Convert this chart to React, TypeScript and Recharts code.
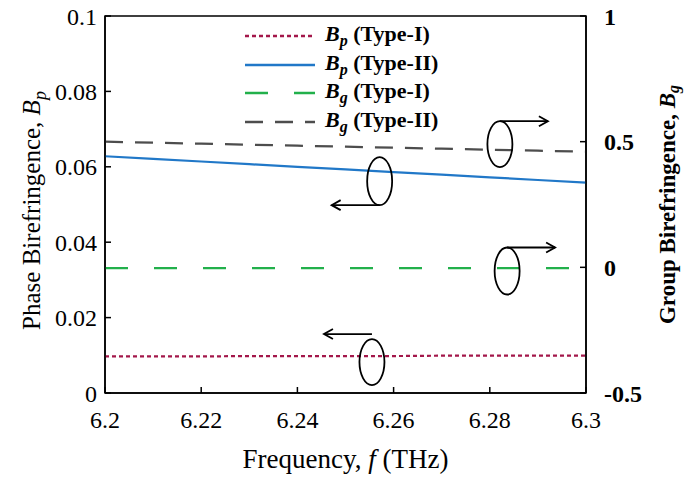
import React from "react";
import {
  ComposedChart,
  Line,
  XAxis,
  YAxis,
  ReferenceArea,
  ReferenceDot,
} from "recharts";

const freq = [6.2, 6.21, 6.22, 6.23, 6.24, 6.25, 6.26, 6.27, 6.28, 6.29, 6.3];
const bpType1 = [0.0097, 0.0097, 0.0097, 0.0098, 0.0098, 0.0098, 0.0098, 0.0099, 0.0099, 0.0099, 0.0099];
const bpType2 = [0.0628, 0.0621, 0.0614, 0.0607, 0.06, 0.0593, 0.0586, 0.0579, 0.0572, 0.0565, 0.0558];
const bgType1 = [-0.003, -0.003, -0.003, -0.003, -0.003, -0.003, -0.003, -0.003, -0.003, -0.003, -0.003];
const bgType2 = [0.5, 0.496, 0.492, 0.488, 0.484, 0.48, 0.476, 0.472, 0.468, 0.464, 0.46];

const xTicks = [6.2, 6.22, 6.24, 6.26, 6.28, 6.3];
const leftTicks = [0, 0.02, 0.04, 0.06, 0.08, 0.1];
const rightTicks = [-0.5, 0, 0.5, 1];

const data = freq.map((f, i) => ({
  f,
  bp1: bpType1[i],
  bp2: bpType2[i],
  bg1: bgType1[i],
  bg2: bgType2[i],
}));

const FONT = "Liberation Serif, Times New Roman, serif";

const series = [
  { key: "bp1", sym: "p", name: "(Type-I)", color: "#a3174a", dash: "4 3", axis: "left" },
  { key: "bp2", sym: "p", name: "(Type-II)", color: "#2178c8", dash: undefined, axis: "left" },
  { key: "bg1", sym: "g", name: "(Type-I)", color: "#22b04b", dash: "23 26", axis: "right" },
  { key: "bg2", sym: "g", name: "(Type-II)", color: "#4d4d4d", dash: "18 12", axis: "right" },
];

// ellipse with an arrow showing which axis a curve belongs to
const makeMarker = (dir: "left" | "right", from: "top" | "bottom", ry: number, lift = 0) =>
  (props: any) => {
    const { cx, cy } = props;
    if (cx == null || cy == null) return <g />;
    const rx = 12.5;
    const y0 = from === "top" ? cy - ry - lift : cy + ry;
    const x1 = dir === "right" ? cx + 48 : cx - 48;
    const s = dir === "right" ? -1 : 1;
    return (
      <g>
        <ellipse cx={cx} cy={cy} rx={rx} ry={ry} fill="none" stroke="#000" strokeWidth={1.8} />
        <line x1={cx} y1={y0} x2={x1} y2={y0} stroke="#000" strokeWidth={1.8} />
        <polyline
          points={`${x1 + s * 9},${y0 - 5} ${x1},${y0} ${x1 + s * 9},${y0 + 5}`}
          fill="none"
          stroke="#000"
          strokeWidth={1.8}
        />
      </g>
    );
  };

const LegendBox = () => (
  <div
    style={{
      position: "absolute",
      left: 245,
      top: 22,
      fontFamily: FONT,
      fontWeight: "bold",
      fontSize: 22,
      color: "#000",
      lineHeight: 1,
    }}
  >
    {series.map((s) => (
      <div key={s.key} style={{ display: "flex", alignItems: "center", height: 28.5 }}>
        <svg width={70} height={10} style={{ marginRight: 10 }}>
          <line x1={0} y1={5} x2={70} y2={5} stroke={s.color} strokeWidth={2.5} strokeDasharray={s.dash} />
        </svg>
        <span>
          <i>B</i>
          <sub style={{ fontSize: 16, fontStyle: "italic", verticalAlign: "-5px" }}>{s.sym}</sub> {s.name}
        </span>
      </div>
    ))}
  </div>
);

const LeftLabel = (props: any) => {
  const { viewBox } = props;
  const x = viewBox.x + 40;
  const y = viewBox.y + viewBox.height / 2 + 6;
  return (
    <text x={x} y={y} transform={`rotate(-90 ${x} ${y})`} textAnchor="middle" fontFamily={FONT} fontSize={25} fill="#000">
      Phase Birefringence, <tspan fontStyle="italic">B</tspan>
      <tspan fontStyle="italic" fontSize={18} dy={6}>p</tspan>
    </text>
  );
};

const RightLabel = (props: any) => {
  const { viewBox } = props;
  const x = viewBox.x + 89;
  const y = viewBox.y + viewBox.height / 2;
  return (
    <text x={x} y={y} transform={`rotate(-90 ${x} ${y})`} textAnchor="middle" fontFamily={FONT} fontWeight="bold" fontSize={23} fill="#000">
      Group Birefringence, <tspan fontStyle="italic">B</tspan>
      <tspan fontStyle="italic" fontSize={16} dy={4}>g</tspan>
    </text>
  );
};

const BottomLabel = (props: any) => {
  const { viewBox } = props;
  const x = viewBox.x + viewBox.width / 2;
  const y = viewBox.y + 75;
  return (
    <text x={x} y={y} textAnchor="middle" fontFamily={FONT} fontSize={27} fill="#000">
      Frequency, <tspan fontStyle="italic">f</tspan> (THz)
    </text>
  );
};

export default function App() {
  return (
    <div style={{ position: "absolute", left: 0, top: 0, width: 684, height: 478, background: "#fff" }}>
      <ComposedChart width={684} height={478} data={data} margin={{ top: 16, right: 0, bottom: 0, left: 0 }}>
        <XAxis
          dataKey="f"
          type="number"
          domain={[6.2, 6.3]}
          ticks={xTicks}
          allowDataOverflow
          height={85}
          tickSize={-6}
          tickMargin={24}
          stroke="#000"
          strokeWidth={1.5}
          tick={{ fontFamily: FONT, fontSize: 24, fill: "#000" }}
          label={<BottomLabel />}
        />
        <YAxis
          yAxisId="left"
          orientation="left"
          type="number"
          domain={[0, 0.1]}
          ticks={leftTicks}
          allowDataOverflow
          width={105}
          tickSize={-6}
          tickMargin={14}
          stroke="#000"
          strokeWidth={1.5}
          tick={{ fontFamily: FONT, fontSize: 24, fill: "#000" }}
          label={<LeftLabel />}
        />
        <YAxis
          yAxisId="right"
          orientation="right"
          type="number"
          domain={[-0.5, 1]}
          ticks={rightTicks}
          allowDataOverflow
          width={98}
          tickSize={-6}
          tickMargin={24}
          stroke="#000"
          strokeWidth={1.5}
          tick={{ fontFamily: FONT, fontSize: 24, fill: "#000", fontWeight: "bold" }}
          label={<RightLabel />}
        />
        <ReferenceArea yAxisId="left" x1={6.2} x2={6.3} y1={0} y2={0.1} fill="none" stroke="#000" strokeWidth={1.5} />
        {series.map((s) => (
          <Line
            key={s.key}
            yAxisId={s.axis}
            dataKey={s.key}
            type="linear"
            stroke={s.color}
            strokeWidth={2.2}
            strokeDasharray={s.dash}
            dot={false}
            isAnimationActive={false}
          />
        ))}
        <ReferenceDot yAxisId="right" x={6.2821} y={0.49} r={1} shape={makeMarker("right", "top", 23)} />
        <ReferenceDot yAxisId="left" x={6.2571} y={0.0562} r={1} shape={makeMarker("left", "bottom", 24)} />
        <ReferenceDot yAxisId="right" x={6.2836} y={-0.0146} r={1} shape={makeMarker("right", "top", 23.5)} />
        <ReferenceDot yAxisId="left" x={6.2555} y={0.0082} r={1} shape={makeMarker("left", "top", 23, 5)} />
      </ComposedChart>
      <LegendBox />
    </div>
  );
}
